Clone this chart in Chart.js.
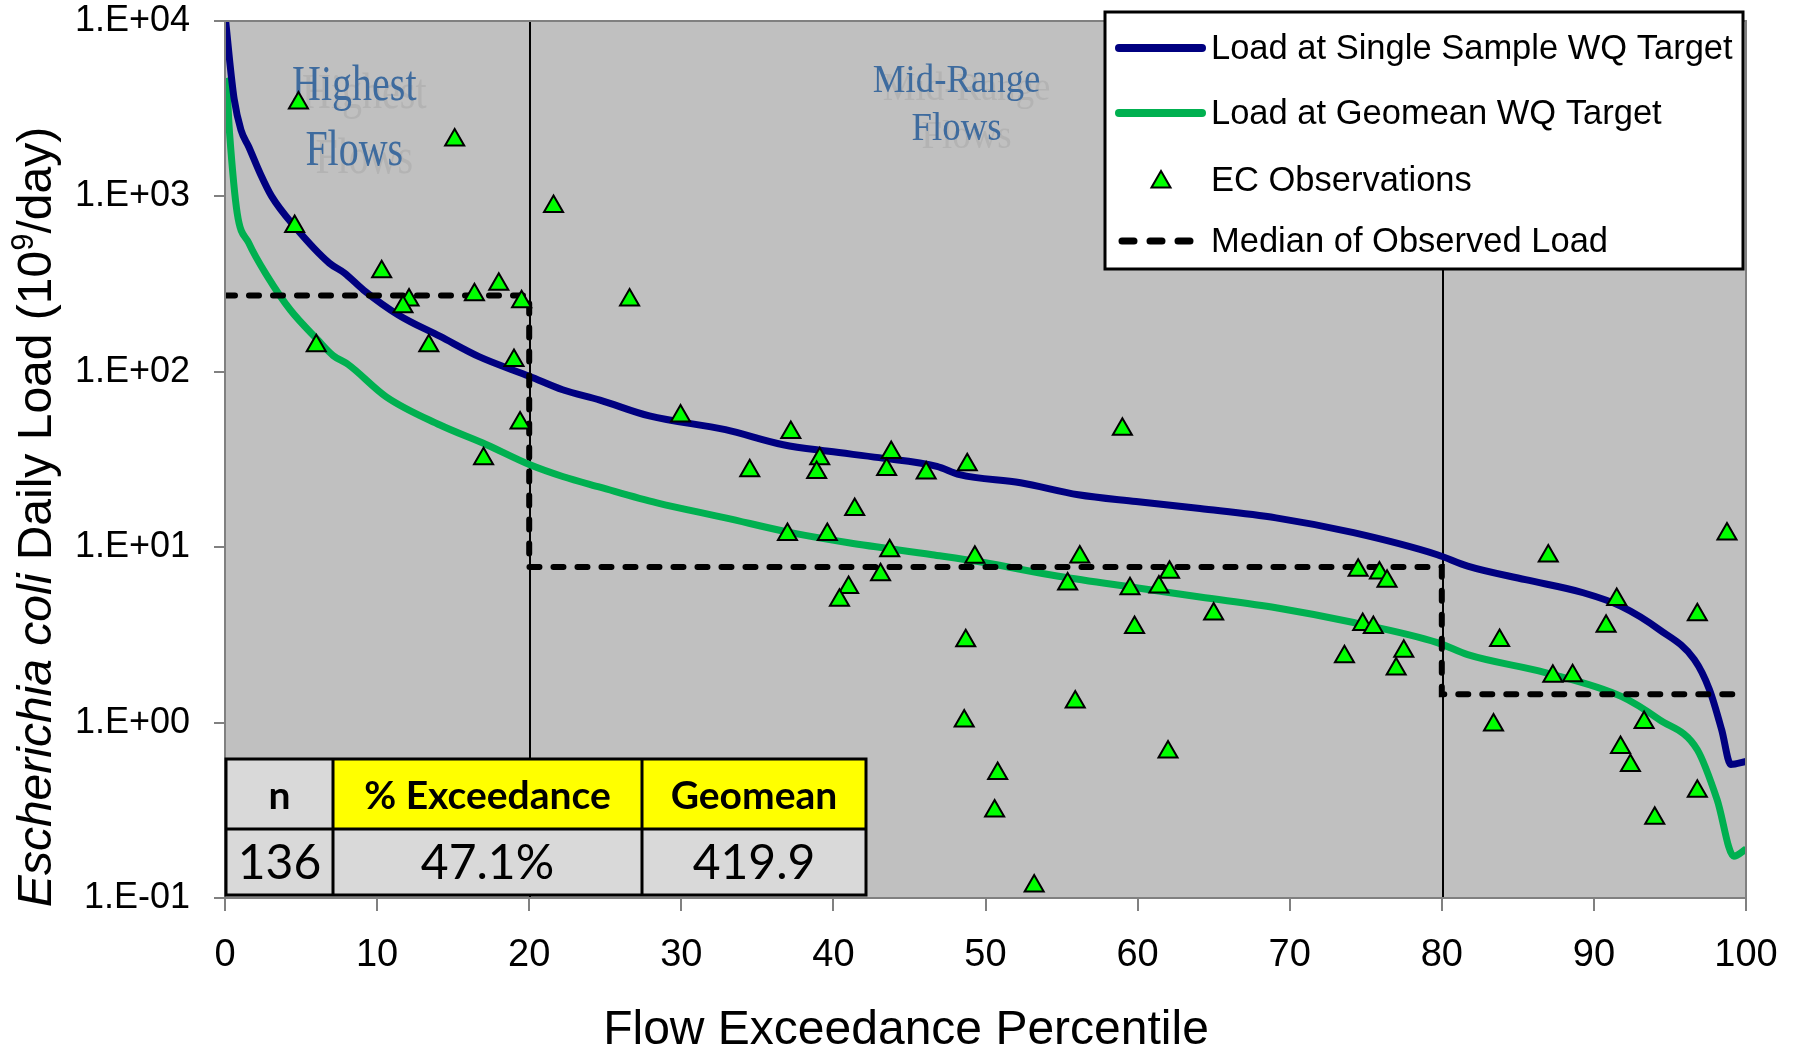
<!DOCTYPE html>
<html>
<head>
<meta charset="utf-8">
<script src="https://cdn.jsdelivr.net/npm/chart.js@4.4.1/dist/chart.umd.min.js"></script>
<style>
html, body { margin: 0; padding: 0; background: #fff; }
#wrap { width: 1801px; height: 1053px; }
</style>
</head>
<body>
<div id="wrap"><canvas id="myChart" width="1801" height="1053"></canvas></div>
<script>
// load duration curve data
let singleX = [0, 0.3, 0.6, 1.05, 1.56, 2.3, 3.07, 4.58, 6.85, 7.85, 9.1, 11.4, 14.15, 16.7, 20.05, 22.2, 24.65, 27.9, 32.9, 36.7, 39.7, 43.0, 46.8, 48.3, 52.3, 56.1, 59.9, 64.1, 69.1, 74.2, 79.7, 81.7, 85.5, 89.3, 91.8, 94.3, 96.6, 97.6, 98.4, 99.0, 100];
let singleY = [11000, 6000, 3600, 2390, 1920, 1360, 1000, 673, 417, 366, 293, 211, 159, 122, 94, 79, 69, 56, 46.8, 38.4, 35.2, 32.4, 28.9, 25.9, 23.3, 19.9, 18.2, 16.6, 14.7, 12.1, 9.06, 7.8, 6.53, 5.5, 4.6, 3.39, 2.29, 1.54, 0.91, 0.577, 0.60];
let geoX = [0, 0.1, 0.3, 0.8, 1.56, 2.8, 4.3, 6.1, 7.1, 8.1, 10.6, 14.1, 17.2, 20.05, 22.2, 24.65, 28.4, 32.9, 37.2, 41.0, 46.5, 49.8, 54.8, 59.9, 64.1, 69.1, 74.2, 79.7, 81.7, 86.8, 91.8, 94.3, 96.8, 98.1, 99.2, 100];
let geoY = [4700, 4420, 2300, 805, 543, 349, 225, 152, 124, 110, 72, 49.9, 38.4, 29.5, 25.3, 22, 17.9, 14.7, 12.1, 10.6, 9.06, 8.2, 6.83, 5.87, 5.2, 4.52, 3.72, 2.86, 2.44, 1.93, 1.41, 1.04, 0.70, 0.364, 0.173, 0.19];

let obsX = [4.83, 15.1, 21.6, 4.58, 10.3, 12.1, 11.7, 16.4, 18.0, 19.5, 6.0, 13.4, 19.0, 19.4, 17.0, 26.6, 29.95, 37.2, 34.5, 39.1, 38.9, 43.8, 43.5, 46.1, 48.8, 41.4, 36.98, 39.6, 43.7, 49.3, 56.2, 43.1, 41.0, 40.4, 55.4, 59.0, 59.5, 61.4, 62.1, 59.8, 48.7, 55.9, 48.6, 62.0, 50.8, 65.0, 74.5, 75.9, 76.4, 74.8, 75.5, 73.6, 77.5, 77.0, 87.0, 98.75, 91.5, 90.8, 96.8, 83.8, 87.3, 88.6, 83.4, 93.3, 91.75, 92.4, 96.8, 94.0, 53.2, 50.6];
let obsY = [3410, 2100, 875, 673, 372, 257, 235, 275, 316, 251, 141, 141, 116, 51, 31.9, 257, 56, 45.1, 27.3, 31.9, 26.7, 34.7, 27.7, 26.5, 29.5, 16.4, 11.8, 11.8, 9.55, 8.75, 8.8, 6.97, 5.9, 4.98, 6.17, 47.1, 5.8, 5.93, 7.2, 3.49, 2.93, 1.31, 1.02, 0.68, 0.513, 4.16, 7.38, 7.13, 6.39, 3.62, 3.49, 2.37, 2.55, 2.02, 8.9, 11.9, 5.03, 3.54, 4.12, 2.94, 1.84, 1.85, 0.97, 1.0, 0.72, 0.57, 0.406, 0.285, 0.117, 0.313];

let medianX = [0, 20, 20, 80, 80, 100];
let medianY = [272, 272, 7.7, 7.7, 1.45, 1.45];

let xTickValues = [0, 10, 20, 30, 40, 50, 60, 70, 80, 90, 100];
let yTickValues = [0.1, 1, 10, 100, 1000, 10000];
let yTickLabels = ['1.E-01', '1.E+00', '1.E+01', '1.E+02', '1.E+03', '1.E+04'];

let zoneBreaks = [20, 80];
let tableHead = ['n', '% Exceedance', 'Geomean'];
let tableVals = ['136', '47.1%', '419.9'];

const SANS = "'Liberation Sans', Arial, sans-serif";
const BLUE = '#000080', GREEN = '#00B050', TRI = '#00FF00';

function pts(xs, ys) { return xs.map((x, i) => ({x: x, y: ys[i]})); }

function triangle(ctx, x, y, r) {
    let side = r * Math.sqrt(3), h = side * Math.sqrt(3) / 2;
    ctx.beginPath();
    ctx.moveTo(x - side / 2, y + h / 3);
    ctx.lineTo(x, y - 2 * h / 3);
    ctx.lineTo(x + side / 2, y + h / 3);
    ctx.closePath();
    ctx.fillStyle = TRI; ctx.fill();
    ctx.lineWidth = 2; ctx.strokeStyle = '#000'; ctx.stroke();
}

function zoneText(ctx, txt, cx, base, size, sx) {
    ctx.save();
    ctx.translate(cx, base);
    ctx.scale(sx, 1);
    ctx.font = size + "px 'Liberation Serif', 'Times New Roman', serif";
    ctx.textAlign = 'center';
    ctx.textBaseline = 'alphabetic';
    ctx.fillStyle = 'rgba(110,110,110,0.16)';
    ctx.fillText(txt, 10 / sx, 8);
    ctx.fillStyle = '#3E6B9E';
    ctx.fillText(txt, 0, 0);
    ctx.restore();
}

let decor = {
    id: 'decor',
    beforeDraw(chart) {
        let ctx = chart.ctx, a = chart.chartArea;
        ctx.save();
        ctx.fillStyle = '#fff';
        ctx.fillRect(0, 0, chart.width, chart.height);
        ctx.fillStyle = '#C0C0C0';
        ctx.fillRect(a.left, a.top, a.right - a.left, a.bottom - a.top);
        ctx.restore();
    },
    beforeDatasetsDraw(chart) {
        let ctx = chart.ctx, a = chart.chartArea, xs = chart.scales.x;
        ctx.save();
        // flow zone labels
        zoneText(ctx, 'Highest', xs.getPixelForValue(8.5), 100, 50, 0.8);
        zoneText(ctx, 'Flows', xs.getPixelForValue(8.5), 165, 50, 0.8);
        zoneText(ctx, 'Mid-Range', xs.getPixelForValue(48.1), 92, 40, 0.92);
        zoneText(ctx, 'Flows', xs.getPixelForValue(48.1), 140, 40, 0.92);
        // zone break lines
        ctx.strokeStyle = '#000';
        ctx.lineWidth = 2;
        zoneBreaks.forEach(v => {
            let px = Math.round(xs.getPixelForValue(v)) + 1;
            ctx.beginPath();
            ctx.moveTo(px, a.top);
            ctx.lineTo(px, a.bottom);
            ctx.stroke();
        });
        ctx.restore();
    },
    afterDatasetsDraw(chart) {
        let ctx = chart.ctx, a = chart.chartArea;
        ctx.save();
        // plot border
        ctx.strokeStyle = '#808080';
        ctx.lineWidth = 2;
        ctx.strokeRect(a.left, a.top, a.right - a.left, a.bottom - a.top);

        // summary table
        let cols = [226, 333, 642, 866], rows = [759, 829, 895];
        for (let c = 0; c < 3; c++) {
            ctx.fillStyle = c === 0 ? '#D9D9D9' : '#FFFF00';
            ctx.fillRect(cols[c], rows[0], cols[c + 1] - cols[c], rows[1] - rows[0]);
            ctx.fillStyle = '#D9D9D9';
            ctx.fillRect(cols[c], rows[1], cols[c + 1] - cols[c], rows[2] - rows[1]);
        }
        ctx.strokeStyle = '#000';
        ctx.lineWidth = 3;
        ctx.strokeRect(cols[0], rows[0], cols[3] - cols[0], rows[2] - rows[0]);
        ctx.beginPath();
        ctx.moveTo(cols[0], rows[1]); ctx.lineTo(cols[3], rows[1]);
        ctx.moveTo(cols[1], rows[0]); ctx.lineTo(cols[1], rows[2]);
        ctx.moveTo(cols[2], rows[0]); ctx.lineTo(cols[2], rows[2]);
        ctx.stroke();
        ctx.fillStyle = '#000';
        ctx.textAlign = 'center';
        ctx.textBaseline = 'middle';
        for (let c = 0; c < 3; c++) {
            let cx = (cols[c] + cols[c + 1]) / 2;
            ctx.font = "bold 39px Lato, 'Open Sans', sans-serif";
            ctx.fillText(tableHead[c], cx, (rows[0] + rows[1]) / 2 + 2);
            ctx.font = "48px Lato, 'Open Sans', sans-serif";
            ctx.fillText(tableVals[c], cx, (rows[1] + rows[2]) / 2 + 2);
        }

        // legend
        let lx = 1105, ly = 12, lw = 638, lh = 257;
        ctx.fillStyle = '#fff';
        ctx.fillRect(lx, ly, lw, lh);
        ctx.strokeStyle = '#000';
        ctx.lineWidth = 3;
        ctx.strokeRect(lx, ly, lw, lh);
        let rowY = [48, 113, 180, 241];
        let names = ['Load at Single Sample WQ Target', 'Load at Geomean WQ Target', 'EC Observations', 'Median of Observed Load'];
        ctx.lineCap = 'round';
        ctx.lineWidth = 8;
        ctx.strokeStyle = BLUE;
        ctx.beginPath(); ctx.moveTo(1119, rowY[0]); ctx.lineTo(1202, rowY[0]); ctx.stroke();
        ctx.strokeStyle = GREEN;
        ctx.beginPath(); ctx.moveTo(1119, rowY[1]); ctx.lineTo(1202, rowY[1]); ctx.stroke();
        triangle(ctx, 1161, rowY[2] + 2, 11);
        ctx.strokeStyle = '#000';
        ctx.lineWidth = 7;
        ctx.lineCap = 'round';
        ctx.setLineDash([12, 16]);
        ctx.beginPath(); ctx.moveTo(1122, rowY[3]); ctx.lineTo(1196, rowY[3]); ctx.stroke();
        ctx.setLineDash([]);
        ctx.fillStyle = '#000';
        ctx.font = '34.5px ' + SANS;
        ctx.textAlign = 'left';
        ctx.textBaseline = 'middle';
        names.forEach((n, i) => ctx.fillText(n, 1211, rowY[i] + 1));
        ctx.restore();
    },
    afterDraw(chart) {
        let ctx = chart.ctx;
        ctx.save();
        ctx.fillStyle = '#000';
        // x title
        ctx.font = '48px ' + SANS;
        ctx.textAlign = 'center';
        ctx.textBaseline = 'middle';
        ctx.fillText('Flow Exceedance Percentile', 906, 1031);
        // y title, rotated, with italic species name and superscript
        ctx.translate(38, 517);
        ctx.rotate(-Math.PI / 2);
        let parts = [
            {t: 'Escherichia coli', f: 'italic 48px ' + SANS, dy: 0},
            {t: ' Daily Load (10', f: '48px ' + SANS, dy: 0},
            {t: '9', f: '31px ' + SANS, dy: -14},
            {t: '/day)', f: '48px ' + SANS, dy: 0}
        ];
        let total = 0;
        parts.forEach(p => { ctx.font = p.f; p.w = ctx.measureText(p.t).width; total += p.w; });
        let px = -total / 2;
        ctx.textAlign = 'left';
        parts.forEach(p => { ctx.font = p.f; ctx.fillText(p.t, px, p.dy); px += p.w; });
        ctx.restore();
    }
};

let ctx = document.getElementById('myChart').getContext('2d');
let chart = new Chart(ctx, {
    type: 'line',
    data: {
        datasets: [
            { // observations on top
                label: 'EC Observations',
                data: pts(obsX, obsY),
                showLine: false,
                pointStyle: 'triangle',
                pointRadius: 11,
                pointBackgroundColor: TRI,
                pointBorderColor: '#000',
                pointBorderWidth: 2
            },
            {
                label: 'Median of Observed Load',
                data: pts(medianX, medianY),
                borderColor: '#000',
                borderWidth: 6,
                borderDash: [10, 14],
                borderCapStyle: 'round',
                pointRadius: 0,
                tension: 0
            },
            {
                label: 'Load at Single Sample WQ Target',
                data: pts(singleX, singleY),
                borderColor: BLUE,
                borderWidth: 7,
                pointRadius: 0,
                cubicInterpolationMode: 'monotone'
            },
            {
                label: 'Load at Geomean WQ Target',
                data: pts(geoX, geoY),
                borderColor: GREEN,
                borderWidth: 7,
                pointRadius: 0,
                cubicInterpolationMode: 'monotone'
            }
        ]
    },
    options: {
        responsive: false,
        devicePixelRatio: 1,
        animation: false,
        layout: { padding: { top: 21, right: 55, left: 0, bottom: 0 } },
        plugins: { legend: { display: false }, tooltip: { enabled: false } },
        scales: {
            x: {
                type: 'linear',
                min: 0, max: 100,
                afterBuildTicks: s => { s.ticks = xTickValues.map(v => ({value: v})); },
                afterFit: s => { s.height = 155; s.paddingLeft = 0; s.paddingRight = 0; },
                ticks: { font: { size: 38, family: SANS }, color: '#000', padding: 22, maxRotation: 0 },
                grid: { drawOnChartArea: false, tickLength: 13, color: '#808080', lineWidth: 2 },
                border: { color: '#808080', width: 2 }
            },
            y: {
                type: 'logarithmic',
                min: 0.1, max: 10000,
                afterBuildTicks: s => { s.ticks = yTickValues.map(v => ({value: v})); },
                afterFit: s => { s.width = 225; s.paddingTop = 0; s.paddingBottom = 0; },
                ticks: {
                    font: { size: 36, family: SANS }, color: '#000', padding: 24,
                    callback: v => { let i = yTickValues.indexOf(v); return i < 0 ? '' : yTickLabels[i]; }
                },
                grid: { drawOnChartArea: false, tickLength: 11, color: '#808080', lineWidth: 2 },
                border: { color: '#808080', width: 2 }
            }
        }
    },
    plugins: [decor]
});
</script>
</body>
</html>
